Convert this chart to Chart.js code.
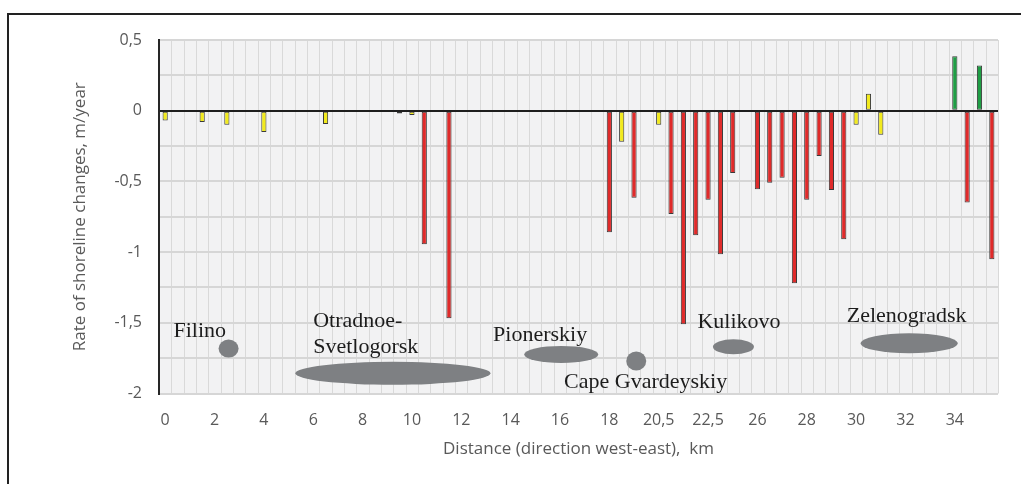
<!DOCTYPE html>
<html>
<head>
<meta charset="utf-8">
<script src="https://cdn.jsdelivr.net/npm/chart.js@4.4.1/dist/chart.umd.min.js"></script>
<style>
  html, body { margin: 0; padding: 0; background: #fff; }
  #wrap { position: relative; width: 1021px; height: 484px; overflow: hidden; }
  #frame { position: absolute; left: 7px; top: 13px; width: 1100px; height: 600px;
           border-top: 2px solid #222; border-left: 2px solid #222; }
  canvas { position: absolute; left: 0; top: 0; }
</style>
</head>
<body>
<div id="wrap">
  <div id="frame"></div>
  <canvas id="chart" width="1021" height="484"></canvas>
</div>
<script>
// Distance along the coast, km (one category per profile)
var distances = [
    0, 0.5, 1, 1.5, 2, 2.5, 3, 3.5, 4, 4.5,
    5, 5.5, 6, 6.5, 7, 7.5, 8, 8.5, 9, 9.5,
    10, 10.5, 11, 11.5, 12, 12.5, 13, 13.5, 14, 14.5,
    15, 15.5, 16, 16.5, 17, 17.5, 18, 18.5, 19, 19.5,
    20.5, 21, 21.5, 22, 22.5, 23.5, 24.5, 25.5, 26, 26.5,
    27, 27.5, 28, 28.5, 29, 29.5, 30, 30.5, 31, 31.5,
    32, 32.5, 33, 33.5, 34, 34.5, 35, 35.5
];

// Rate of shoreline changes, m/year (null = no profile value)
var rates = [
    -0.07, null, null, -0.08, null, -0.10, null, null, -0.15, null,
    null, null, null, -0.094, -0.01, -0.01, null, null, null, -0.02,
    -0.03, -0.945, null, -1.468, null, -0.01, null, null, null, null,
    null, null, null, null, null, null, -0.86, -0.22, -0.615, null,
    -0.10, -0.73, -1.51, -0.88, -0.63, -1.015, -0.44, null, -0.555, -0.51,
    -0.475, -1.22, -0.63, -0.32, -0.56, -0.91, -0.10, 0.12, -0.17, null,
    null, null, null, null, 0.385, -0.65, 0.32, -1.05
];

// Settlements marked on the chart
var places = [
    { lines: ["Filino"], tx: 0.67, ty: -1.598, ex: 5.14, ey: -1.682, w: 20, h: 18 },
    { lines: ["Otradnoe-", "Svetlogorsk"], tx: 12.0, ty: -1.53, ex: 18.46, ey: -1.857, w: 195, h: 23 },
    { lines: ["Pionerskiy"], tx: 26.58, ty: -1.629, ex: 32.1, ey: -1.724, w: 74, h: 17 },
    { lines: ["Cape Gvardeyskiy"], tx: 32.33, ty: -1.961, ex: 38.18, ey: -1.770, w: 20, h: 19 },
    { lines: ["Kulikovo"], tx: 43.14, ty: -1.539, ex: 46.06, ey: -1.669, w: 41, h: 15 },
    { lines: ["Zelenogradsk"], tx: 55.24, ty: -1.496, ex: 60.3, ey: -1.645, w: 97, h: 20 }
];

function comma(v) {
    return String(v).replace('.', ',');
}

function barColor(v) {
    if (v === null) return 'rgba(0,0,0,0)';
    if (v > 0.2) return '#1f9e45';
    if (v <= -0.3) return '#e02a2a';
    return '#f2ea1d';
}

// plot area background + one vertical line between every two profiles
var plotBg = {
    id: 'plotBg',
    beforeDraw: function (chart) {
        var a = chart.chartArea, ctx = chart.ctx, xs = chart.scales.x;
        ctx.save();
        ctx.fillStyle = '#f2f2f3';
        ctx.fillRect(a.left, a.top, a.right - a.left, a.bottom - a.top);
        ctx.strokeStyle = '#d9d9d9';
        ctx.lineWidth = 1;
        ctx.beginPath();
        for (var i = 0; i <= distances.length; i++) {
            var x = Math.round(xs.getPixelForValue(i - 0.5)) + 0.5;
            ctx.moveTo(x, a.top);
            ctx.lineTo(x, a.bottom);
        }
        ctx.stroke();
        ctx.restore();
    }
};

// settlement ellipses and names
var placeLabels = {
    id: 'placeLabels',
    afterDatasetsDraw: function (chart) {
        var ctx = chart.ctx, xs = chart.scales.x, ys = chart.scales.y;
        ctx.save();
        places.forEach(function (p) {
            ctx.fillStyle = '#7e8083';
            ctx.beginPath();
            ctx.ellipse(xs.getPixelForValue(p.ex), ys.getPixelForValue(p.ey), p.w / 2, p.h / 2, 0, 0, Math.PI * 2);
            ctx.fill();
            ctx.fillStyle = '#1c1c1c';
            ctx.font = '22px "Liberation Serif"';
            ctx.textAlign = 'left';
            ctx.textBaseline = 'alphabetic';
            var x = xs.getPixelForValue(p.tx), y = ys.getPixelForValue(p.ty);
            p.lines.forEach(function (t, i) {
                ctx.fillText(t, x, y + i * 26);
            });
        });
        ctx.restore();
    }
};

var ctx = document.getElementById('chart').getContext('2d');
var chart = new Chart(ctx, {
    type: 'bar',
    data: {
        labels: distances.map(comma),
        datasets: [{
            data: rates,
            backgroundColor: rates.map(barColor),
            borderColor: '#3a3a3a',
            borderWidth: 1,
            borderSkipped: false,
            barPercentage: 0.42,
            categoryPercentage: 1
        }]
    },
    options: {
        responsive: false,
        animation: false,
        devicePixelRatio: 1,
        layout: { padding: { top: 40, right: 23, bottom: 0, left: 0 } },
        plugins: {
            legend: { display: false },
            tooltip: { enabled: false }
        },
        scales: {
            x: {
                grid: { display: false, drawTicks: false },
                border: { display: false },
                ticks: {
                    autoSkip: false,
                    maxRotation: 0,
                    padding: 17,
                    color: '#595959',
                    font: { family: 'Open Sans', size: 16 },
                    callback: function (val, i) {
                        return i % 4 === 0 ? comma(distances[i]) : '';
                    }
                },
                title: {
                    display: true,
                    text: 'Distance (direction west-east),  km',
                    color: '#595959',
                    font: { family: 'Open Sans', size: 17 },
                    padding: { top: 0, bottom: 25 }
                },
                afterFit: function (s) { s.height = 90.5; }
            },
            y: {
                min: -2,
                max: 0.5,
                grid: {
                    drawTicks: false,
                    color: function (c) { return c.tick.value === 0 ? '#1e1e1e' : '#d6d6d6'; },
                    lineWidth: 2
                },
                border: { color: '#262626', width: 2 },
                ticks: {
                    stepSize: 0.25,
                    padding: 17,
                    color: '#595959',
                    font: { family: 'Open Sans', size: 16 },
                    callback: function (v) {
                        return Math.abs(v * 2 - Math.round(v * 2)) < 1e-9 ? comma(v) : '';
                    }
                },
                title: {
                    display: true,
                    text: 'Rate of shoreline changes, m/year',
                    color: '#595959',
                    font: { family: 'Open Sans', size: 17 },
                    padding: { top: 70, bottom: 0 }
                },
                afterFit: function (s) { s.width = 159; }
            }
        }
    },
    plugins: [plotBg, placeLabels]
});
</script>
</body>
</html>
